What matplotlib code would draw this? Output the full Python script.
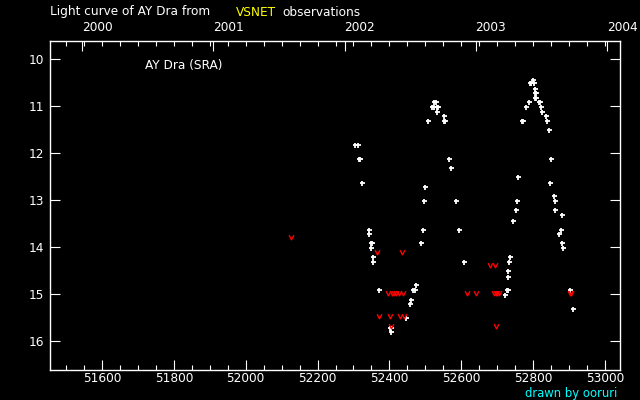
import matplotlib
matplotlib.use("Agg")
import matplotlib.pyplot as plt
from matplotlib.path import Path

# visual observations (MJD, visual magnitude)
white_mjd = [52305, 52313, 52315, 52318, 52324,
             52344, 52344, 52349, 52352, 52349, 52355, 52355,
             52371, 52401, 52404, 52405, 52446, 52458, 52460, 52467, 52470, 52474,
             52488, 52494, 52497, 52499, 52508, 52519, 52524, 52530, 52525, 52533,
             52535, 52533, 52552, 52552, 52555,
             52566, 52572, 52586, 52594, 52608,
             52722, 52726, 52729, 52730, 52730, 52733, 52736,
             52744, 52752, 52755, 52758, 52768, 52771, 52780, 52789, 52792, 52795,
             52800, 52802, 52805, 52806, 52809, 52806, 52808, 52817, 52820, 52822,
             52825, 52836, 52839, 52844, 52850, 52847, 52858, 52861, 52861, 52880,
             52878, 52872, 52880, 52883, 52903, 52911]
white_mag = [11.81, 11.81, 12.11, 12.11, 12.62,
             13.62, 13.72, 13.91, 13.91, 14.02, 14.21, 14.32,
             14.91, 15.72, 15.72, 15.81, 15.51, 15.21, 15.13, 14.91, 14.91, 14.81,
             13.91, 13.62, 13.02, 12.72, 11.32, 11.02, 10.91, 10.91, 11.02, 11.02,
             11.02, 11.11, 11.21, 11.32, 11.32,
             12.11, 12.32, 13.02, 13.62, 14.32,
             15.02, 14.91, 14.91, 14.62, 14.51, 14.32, 14.21,
             13.43, 13.21, 13.02, 12.51, 11.32, 11.32, 11.02, 10.91, 10.51, 10.51,
             10.43, 10.51, 10.62, 10.72, 10.72, 10.81, 10.81, 10.91, 10.91, 11.02,
             11.11, 11.21, 11.32, 11.51, 12.11, 12.62, 12.91, 13.02, 13.21, 13.32,
             13.62, 13.72, 13.91, 14.02, 14.91, 15.32]

# fainter-than observations
red_mjd = [52127, 52366, 52435,
           52396, 52407, 52412, 52418, 52427, 52438,
           52616, 52642, 52691, 52697, 52699, 52705, 52903, 52905,
           52371, 52402, 52430, 52441,
           52679, 52693,
           52405, 52697]
red_mag = [13.78, 14.09, 14.09,
           14.98, 14.98, 14.98, 14.98, 14.98, 14.98,
           14.98, 14.98, 14.98, 14.98, 14.98, 14.98, 14.98, 14.98,
           15.47, 15.47, 15.47, 15.47,
           14.38, 14.38,
           15.68, 15.68]

bottom_ticks = [51600, 51800, 52000, 52200, 52400, 52600, 52800, 53000]
years = ["2000", "2001", "2002", "2003", "2004"]
year_mjd = [51544, 51910, 52275, 52640, 53005]

FS = 8.7
plt.rcParams['font.family'] = ['DejaVu Sans']
fig = plt.figure(figsize=(6.4, 4.0), dpi=100, facecolor='black')
ax = fig.add_axes([50/640, 1-370/400, 570/640, 329.3/400], facecolor='black')

vmark = Path([(-1, 1), (0, -1), (1, 1)], [Path.MOVETO, Path.LINETO, Path.LINETO])
ax.plot(white_mjd, white_mag, linestyle='none', marker='+', ms=3.6, mew=1.3,
        color='white', zorder=3)
ax.plot(red_mjd, red_mag, linestyle='none', marker=vmark, ms=3.4, mew=1.0,
        mfc='none', mec='#ff0000', zorder=4)

ax.set_xlim(51455, 53042)
ax.set_ylim(16.61, 9.6)
ax.set_xticks(bottom_ticks)
ax.set_xticks(range(51500, 53050, 50), minor=True)
ax.set_yticks([10, 11, 12, 13, 14, 15, 16])
ax.tick_params(axis='x', which='major', direction='in', length=7.5, width=0.8,
               colors='white', labelsize=FS, pad=1.5, bottom=True, top=False)
ax.tick_params(axis='x', which='minor', direction='in', length=3.6, width=0.8,
               colors='white', bottom=True, top=False)
ax.tick_params(axis='y', direction='in', length=7, width=0.8, colors='white',
               labelsize=FS, pad=4, left=True, right=True)
for s in ax.spines.values():
    s.set_color('white')
    s.set_linewidth(1.0)

# top axis in calendar years
top = ax.twiny()
top.set_xlim(ax.get_xlim())
top.set_xticks(year_mjd)
top.set_xticklabels(years, ha='left')
top.set_xticks(range(51500, 53050, 50), minor=True)
top.tick_params(axis='x', which='major', direction='in', length=7.5, width=0.8,
                colors='white', labelsize=FS, pad=5)
top.tick_params(axis='x', which='minor', direction='in', length=3.6, width=0.8,
                colors='white')
for s in top.spines.values():
    s.set_visible(False)

ax.text(0.167, 0.925, "AY Dra (SRA)", transform=ax.transAxes, color='white',
        fontsize=FS, va='center', ha='left')

fig.text(50/640, 1-12/400, "Light curve of AY Dra from", color='white',
         fontsize=FS, va='center', ha='left')
fig.text(236/640, 1-12/400, "VSNET", color='yellow', fontsize=FS,
         va='center', ha='left')
fig.text(282/640, 1-12/400, "observations", color='white', fontsize=FS,
         va='center', ha='left')
fig.text(617/640, 1-393.5/400, "drawn by ooruri", color='cyan', fontsize=8.4,
         va='center', ha='right')

fig.savefig("out.png", dpi=100, facecolor='black')
